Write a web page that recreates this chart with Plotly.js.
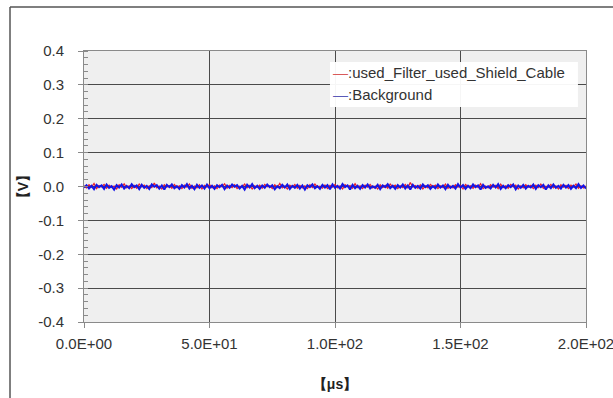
<!DOCTYPE html>
<html>
<head>
<meta charset="utf-8">
<script src="https://cdn.plot.ly/plotly-3.0.1.min.js"></script>
<style>
html,body{margin:0;padding:0;background:#fff;}
#chart{width:613px;height:398px;}
</style>
</head>
<body>
<div id="chart"></div>
<script>
// time axis samples [µs]
const timeUs = [0,1,2,3,4,5,6,7,8,9,10,11,12,13,14,15,16,17,18,19,20,21,22,23,24,25,26,27,28,29,30,31,32,33,34,35,36,37,38,39,40,41,42,43,44,45,46,47,48,49,50,51,52,53,54,55,56,57,58,59,60,61,62,63,64,65,66,67,68,69,70,71,72,73,74,75,76,77,78,79,80,81,82,83,84,85,86,87,88,89,90,91,92,93,94,95,96,97,98,99,100,101,102,103,104,105,106,107,108,109,110,111,112,113,114,115,116,117,118,119,120,121,122,123,124,125,126,127,128,129,130,131,132,133,134,135,136,137,138,139,140,141,142,143,144,145,146,147,148,149,150,151,152,153,154,155,156,157,158,159,160,161,162,163,164,165,166,167,168,169,170,171,172,173,174,175,176,177,178,179,180,181,182,183,184,185,186,187,188,189,190,191,192,193,194,195,196,197,198,199,200];

// :used_Filter_used_Shield_Cable [V]
const filterShieldV = [
0.002,-0.004,0.005,-0.002,0.009,-0.006,0.003,-0.001,0.006,-0.005,
0.004,-0.003,0.001,-0.007,0.005,-0.002,0.008,-0.004,0.002,-0.006,
0.003,-0.005,0.007,-0.001,0.004,-0.006,0.002,-0.003,0.010,-0.004,
0.001,-0.007,0.005,-0.002,0.003,-0.005,0.006,-0.003,0.002,-0.006,
0.004,-0.002,0.007,-0.005,0.001,-0.004,0.005,-0.007,0.003,-0.002,
0.006,-0.004,0.002,-0.006,0.004,-0.001,0.008,-0.005,0.003,-0.003,
0.005,-0.006,0.001,-0.002,0.007,-0.004,0.003,-0.007,0.002,-0.003,
0.004,-0.005,0.006,-0.001,0.002,-0.006,0.005,-0.003,0.009,-0.004,
0.001,-0.007,0.004,-0.002,0.006,-0.005,0.003,-0.004,0.002,-0.006,
0.005,-0.003,0.007,-0.002,0.001,-0.005,0.004,-0.006,0.003,-0.002,
0.006,-0.004,0.002,-0.007,0.005,-0.001,0.003,-0.005,0.008,-0.003,
0.002,-0.006,0.004,-0.002,0.006,-0.004,0.001,-0.007,0.005,-0.003,
0.003,-0.005,0.007,-0.001,0.004,-0.006,0.002,-0.003,0.006,-0.004,
0.012,-0.002,0.003,-0.005,0.005,-0.007,0.002,-0.004,0.006,-0.001,
0.004,-0.006,0.002,-0.003,0.007,-0.005,0.001,-0.004,0.005,-0.002,
0.003,-0.007,0.006,-0.001,0.002,-0.005,0.004,-0.003,0.008,-0.006,
0.001,-0.004,0.005,-0.002,0.003,-0.006,0.007,-0.003,0.002,-0.005,
0.006,-0.001,0.004,-0.007,0.002,-0.004,0.005,-0.002,0.003,-0.006,
0.004,-0.003,0.007,-0.005,0.001,-0.002,0.006,-0.004,0.002,-0.007,
0.005,-0.002,0.003,-0.006,0.004,-0.001,0.007,-0.005,0.002,-0.004,
0.001];

// :Background [V]
const backgroundV = [
-0.003,0.004,-0.006,0.002,-0.008,0.005,-0.002,0.003,-0.007,0.006,
-0.004,0.001,-0.009,0.004,-0.003,0.006,-0.006,0.002,-0.005,0.007,
-0.002,0.003,-0.008,0.005,-0.004,0.002,-0.007,0.006,-0.001,0.004,
-0.006,0.003,-0.009,0.005,-0.002,0.006,-0.005,0.001,-0.007,0.004,
-0.003,0.007,-0.006,0.002,-0.008,0.005,-0.004,0.003,-0.006,0.006,
-0.005,0.002,-0.007,0.004,-0.002,0.005,-0.008,0.003,-0.004,0.006,
-0.001,0.004,-0.006,0.002,-0.009,0.005,-0.003,0.007,-0.005,0.002,
-0.007,0.003,-0.004,0.006,-0.002,0.004,-0.008,0.001,-0.005,0.005,
-0.003,0.006,-0.007,0.002,-0.004,0.005,-0.006,0.003,-0.009,0.004,
-0.002,0.006,-0.005,0.001,-0.007,0.005,-0.003,0.004,-0.008,0.006,
-0.004,0.002,-0.006,0.007,-0.002,0.003,-0.009,0.005,-0.005,0.002,
-0.007,0.004,-0.003,0.006,-0.006,0.001,-0.004,0.005,-0.008,0.003,
-0.002,0.007,-0.005,0.002,-0.007,0.004,-0.003,0.006,-0.006,0.003,
-0.009,0.005,-0.004,0.002,-0.006,0.006,-0.002,0.004,-0.007,0.001,
-0.005,0.006,-0.003,0.003,-0.008,0.005,-0.004,0.002,-0.006,0.007,
-0.003,0.004,-0.007,0.002,-0.005,0.006,-0.002,0.003,-0.009,0.005,
-0.004,0.001,-0.006,0.005,-0.003,0.007,-0.007,0.002,-0.005,0.004,
-0.002,0.006,-0.008,0.003,-0.004,0.005,-0.006,0.002,-0.003,0.006,
-0.007,0.004,-0.002,0.005,-0.009,0.003,-0.005,0.006,-0.004,0.002,
-0.006,0.005,-0.003,0.004,-0.007,0.002,-0.005,0.007,-0.004,0.003,
-0.006];

const seriesNames = [':used_Filter_used_Shield_Cable', ':Background'];
const seriesColors = ['#e8202a', '#1414e6'];
const legendDashColors = ['#d85a5a', '#5a5ab8'];
const xTickVals = [0, 50, 100, 150, 200];
const xTickText = ['0.0E+00', '5.0E+01', '1.0E+02', '1.5E+02', '2.0E+02'];
const yTickVals = [-0.4, -0.3, -0.2, -0.1, 0.0, 0.1, 0.2, 0.3, 0.4];
const yTickText = ['-0.4', '-0.3', '-0.2', '-0.1', '0.0', '0.1', '0.2', '0.3', '0.4'];

const FONT = '"Liberation Sans", Arial, sans-serif';

const traces = [
  {x: timeUs, y: filterShieldV, name: seriesNames[0], type: 'scatter', mode: 'lines',
   line: {color: seriesColors[0], width: 1.3}},
  {x: timeUs, y: backgroundV, name: seriesNames[1], type: 'scatter', mode: 'lines',
   line: {color: seriesColors[1], width: 2}}
];

// legend built as a white box with two text rows (short coloured dash + name)
const legendRowsY = [0.919, 0.838];
const legendAnnotations = seriesNames.map((n, i) => ({
  xref: 'paper', yref: 'paper', x: 0.492, y: legendRowsY[i],
  xanchor: 'left', yanchor: 'middle', showarrow: false, align: 'left',
  text: '<span style="color:' + legendDashColors[i] + '">—</span>' + n,
  font: {family: FONT, size: 15, color: '#333333'}
}));

const layout = {
  width: 613, height: 398,
  margin: {l: 84, r: 27, t: 51, b: 76, pad: 0},
  paper_bgcolor: '#ffffff',
  plot_bgcolor: '#efefef',
  font: {family: FONT, size: 15, color: '#333333'},
  showlegend: false,
  xaxis: {
    range: [0, 200], tickmode: 'array', tickvals: xTickVals, ticktext: xTickText,
    showgrid: true, gridcolor: '#4a4a4a', gridwidth: 1,
    zeroline: false, showline: true, linecolor: '#8a8a8a', linewidth: 1, mirror: true,
    ticks: 'outside', ticklen: 5, tickcolor: '#8a8a8a', ticklabelstandoff: 3,
    ticklabeloverflow: 'allow',
    tickfont: {family: FONT, size: 15, color: '#333333'},
    title: {text: '<b>【μs】</b>', font: {family: FONT, size: 14, color: '#222222'}, standoff: 28}
  },
  yaxis: {
    range: [-0.4, 0.4], tickmode: 'array', tickvals: yTickVals, ticktext: yTickText,
    showgrid: true, gridcolor: '#4a4a4a', gridwidth: 1,
    zeroline: false, showline: true, linecolor: '#8a8a8a', linewidth: 1, mirror: true,
    ticks: 'outside', ticklen: 5, tickcolor: '#8a8a8a', ticklabelstandoff: 11,
    minor: {dtick: 0.02, ticks: 'inside', ticklen: 4, tickcolor: '#8a8a8a', showgrid: false},
    tickfont: {family: FONT, size: 15, color: '#333333'},
    title: {text: '<b>【V】</b>', font: {family: FONT, size: 14, color: '#222222'}, standoff: 6}
  },
  shapes: [
    {type: 'line', xref: 'paper', yref: 'paper', x0: -0.1474, x1: 1.2, y0: 1.1624, y1: 1.1624,
     line: {color: '#555555', width: 1.5}},
    {type: 'line', xref: 'paper', yref: 'paper', x0: -0.1474, x1: -0.1474, y0: -0.4, y1: 1.1624,
     line: {color: '#555555', width: 1.5}},
    {type: 'rect', xref: 'paper', yref: 'paper', layer: 'above',
     x0: 0.490, x1: 0.984, y0: 0.793, y1: 0.959,
     fillcolor: 'rgba(255,255,255,0.95)', line: {width: 0}}
  ],
  annotations: legendAnnotations
};

Plotly.newPlot('chart', traces, layout, {displayModeBar: false, staticPlot: true});
</script>
</body>
</html>
